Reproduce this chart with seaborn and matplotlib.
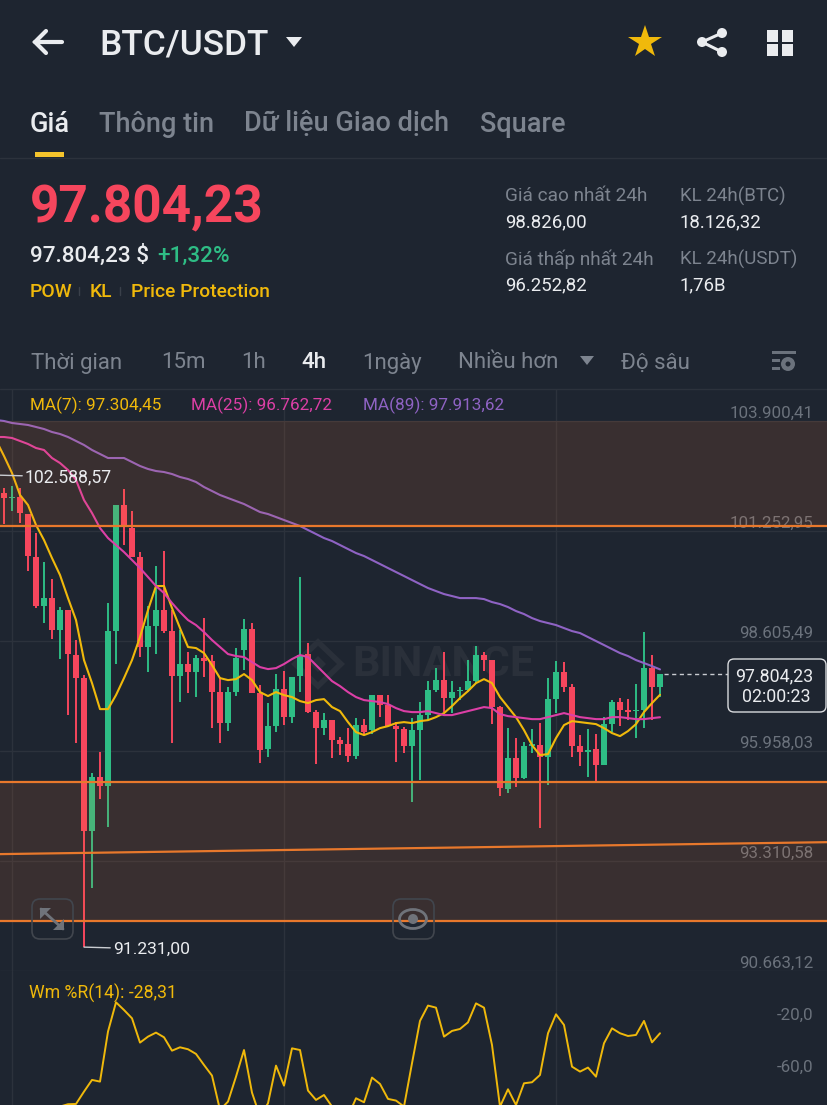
import matplotlib
matplotlib.use("Agg")
import matplotlib.pyplot as plt
from matplotlib.patches import FancyBboxPatch, Polygon, Circle, Rectangle, Ellipse
import seaborn as sns
import pandas as pd

# candles
opens = [102160,102039,102063,101654,100619,99440,99631,98861,99343,98260,97705,94022,95323,95106,98837,101871,101317,100619,98453,98958,
         99343,98837,97754,98043,97850,98187,98115,97369,96622,97369,98380,98885,97345,95996,96550,97440,96767,97754,98284,96887,
         96501,96694,96213,96117,95828,96574,96454,97296,97056,96550,96478,96068,96454,96815,97417,97657,97224,97393,97417,97633,
         98260,98139,97008,95033,95779,95298,96068,96092,95804,97200,97850,97489,96068,95924,95996,95611,96598,97128,96935,96911,
         96935,97946,97489]
closes = [102039,102063,101678,100643,99440,99631,98861,99343,98284,97705,94022,95323,95106,98837,101871,101342,100619,98453,98958,99343,
          98837,97754,98043,97850,98187,98115,97369,96622,97369,98187,98885,97345,95972,96550,97440,96767,97730,98260,96887,96501,
          96694,96213,96117,95828,96574,96406,97296,97056,96550,96478,96068,96454,96815,97417,97657,97224,97369,97417,97633,98260,
          98139,97008,95058,95779,95298,96068,96117,95804,97200,97850,97489,96068,95924,95972,95611,96598,97128,96935,96887,96935,
          97946,97489,97804]
highs = [102280,102329,102280,101654,101197,100499,100089,99416,99343,98621,97778,95419,95924,99512,101871,102256,101726,100739,99440,100403,
         100763,99343,98861,98332,98260,99150,98260,97730,97489,98428,99126,99030,97537,97104,97802,97874,97730,100138,98549,96935,
         96863,96694,96285,96501,96742,96718,97296,97296,97296,96646,96526,96742,97128,97633,97946,98332,97633,97489,98139,98477,
         98332,98139,97032,96501,96261,96165,96478,96622,97705,98115,98091,97561,96334,96478,96358,96766,97176,97224,97200,97561,
         98813,98260,97804]
lows = [101414,101726,101438,100282,99391,99030,98644,98163,96815,96141,91231,92649,94792,94119,98043,100908,100619,98212,97850,98284,
        98789,96141,97128,97345,97249,97730,96501,96141,96430,97273,97898,97345,95659,95804,96406,96574,96622,97369,96863,95635,
        96334,95779,95852,95683,95755,96358,96358,96766,96550,95683,95900,94720,95250,96694,97369,96887,96863,97176,97369,97585,
        97874,96598,94865,94937,95081,95274,95900,94094,95130,96863,97369,95804,95587,95323,95202,95611,96406,96550,96694,96261,
        96501,96694,97249]

# moving averages, first point sits one candle left of the visible chart
ma7 = [103436,103051,102641,102112,101871,101390,101028,100594,100186,99631,99102,98139,97585,96959,96959,97296,97705,98139,98693,99343,
       99921,99921,99391,98909,98453,98428,98308,98018,97705,97657,97681,97802,97657,97369,97273,97369,97296,97249,97152,97104,
       97176,97200,97008,96911,96646,96406,96334,96406,96501,96550,96622,96646,96622,96670,96694,96766,96863,97032,97224,97393,
       97585,97681,97585,97249,97008,96766,96454,96092,95852,95876,96261,96574,96670,96646,96622,96598,96501,96382,96309,
       96430,96598,96887,97104,97304]
ma25 = [103508,103508,103484,103412,103340,103243,103195,103002,102882,102713,102473,101991,101678,101317,101076,100908,100739,100547,100353,100138,
        99921,99752,99512,99295,99102,98982,98813,98621,98453,98284,98236,98212,98091,97970,97922,97946,98043,98163,98260,98212,
        98018,97826,97633,97513,97369,97249,97176,97152,97128,97080,96983,96911,96887,96887,96911,96863,96815,96815,96863,96911,
        96959,97008,96983,96839,96790,96766,96742,96718,96718,96766,96815,96863,96815,96766,96742,96718,96718,96766,96766,96742,
        96718,96718,96742,96763]
ma89 = [103917,103893,103845,103821,103797,103749,103700,103628,103580,103508,103412,103316,103195,103099,103002,103002,103002,102906,102810,102738,
        102689,102665,102617,102545,102497,102425,102304,102208,102112,102039,101967,101895,101799,101702,101654,101582,101510,101438,101366,101269,
        101173,101076,101004,100908,100811,100715,100643,100547,100451,100354,100258,100162,100065,99969,99873,99800,99728,99680,99631,99631,
        99631,99607,99535,99487,99415,99319,99247,99150,99078,99030,98982,98909,98837,98789,98693,98597,98501,98404,98308,98236,
        98139,98067,97994,97914]

# Wm %R(14), starts at candle 7
wr_start = 7
wr = [-84.7,-82.9,-82.7,-73.2,-64.2,-65.5,-27.0,-4.5,-10.4,-16.8,-35.5,-30.9,-27.8,-31.4,-41.7,-39.1,-40.6,-44.2,-52.7,-60.9,
      -87.3,-80.9,-61.7,-41.2,-74.0,-92.4,-82.2,-53.2,-68.6,-39.9,-41.2,-72.4,-79.6,-75.8,-84.7,-92.4,-92.4,-78.3,-81.4,-62.4,
      -67.3,-78.8,-80.1,-84.7,-51.4,-18.8,-7.0,-8.6,-30.9,-26.5,-25.0,-19.9,-5.3,-8.6,-37.3,-84.7,-71.4,-83.5,-66.8,-66.0,
      -60.4,-28.3,-13.7,-21.9,-54.0,-57.8,-54.7,-61.7,-36.0,-24.5,-28.3,-30.4,-29.6,-18.8,-35.3,-28.31]

price_ticks = [103900.41, 101252.95, 98605.49, 95958.03, 93310.58, 90663.12]
price_labels = ["103.900,41", "101.252,95", "98.605,49", "95.958,03", "93.310,58", "90.663,12"]
wr_ticks = [-20, -60]
wr_labels = ["-20,0", "-60,0"]
zones = [(101366, 103893), (91855, 95202)]
trend_line = [(-0.5, 93469), (103, 93757)]
last_price = 97804.23
chart_high = 102588.57
chart_low = 91231.00

BG = "#1e2530"
GRID = "#2c323c"
RED = "#f6465d"
GREEN = "#2ebd85"
YELLOW = "#f0b90b"
PINK = "#dc3fa6"
PURPLE = "#8f63c4"
GREY = "#7d848f"
AXIS_GREY = "#6b727c"
WHITE = "#eaecef"
ORANGE = "#e8782c"
ICON = "#6f737a"

sns.set_theme(style="dark", rc={"figure.facecolor": BG, "axes.facecolor": "none", "savefig.facecolor": BG,
                                "patch.force_edgecolor": False, "patch.edgecolor": "none"})
plt.rcParams["font.family"] = ["Roboto", "DejaVu Sans"]

W, H = 828, 1105
fig = plt.figure(figsize=(W / 100, H / 100), dpi=100)
ax = fig.add_axes([0, 1 - 971 / H, 1, (971 - 389) / H])
ax_wr = fig.add_axes([0, 0, 1, (H - 971) / H])
ui = fig.add_axes([0, 0, 1, 1], zorder=5)
ui.set_xlim(0, W)
ui.set_ylim(H, 0)
ui.axis("off")

ax.set_xlim(-0.5, 103)
ax.set_ylim(90656, 104663)
ax_wr.set_xlim(-0.5, 103)
ax_wr.set_ylim(-83.5, 19.6)

for a in (ax, ax_wr):
    sns.despine(ax=a, left=True, bottom=True)
    a.set_xticks([1, 35, 69])
    a.tick_params(axis="x", length=0, labelbottom=False)
    a.tick_params(axis="y", length=0, pad=-10.6, labelright=True, labelleft=False, labelcolor=AXIS_GREY, labelsize=12.2)
    a.xaxis.grid(True, color=GRID, lw=1)
    a.set_axisbelow(True)

ax.set_yticks(price_ticks)
ax.set_yticklabels(price_labels)
ax.yaxis.grid(True, color=GRID, lw=1)
ax_wr.set_yticks(wr_ticks)
ax_wr.set_yticklabels(wr_labels)
ax_wr.yaxis.grid(False)
for lbl in ax.get_yticklabels() + ax_wr.get_yticklabels():
    lbl.set_ha("right")
    lbl.set_va("bottom")

# watermark
ax.text(352, 664, "BINANCE", transform=ui.transData, color="#2a303a", fontsize=31, fontweight="bold", va="center", zorder=1)
ax.add_patch(Polygon([(318, 642), (341, 664), (318, 686), (295, 664)], closed=True, transform=ui.transData,
                     facecolor="none", edgecolor="#2a303a", lw=4, zorder=1, clip_on=False))
ax.add_patch(Polygon([(318, 656), (326, 664), (318, 672), (310, 664)], closed=True, transform=ui.transData,
                     facecolor="#2a303a", zorder=1, clip_on=False))

# candles
idx = list(range(len(opens)))
colors = [GREEN if c >= o else RED for o, c in zip(opens, closes)]
ax.vlines(idx, lows, highs, colors=colors, lw=1.4, zorder=2)
body_low = [min(o, c) for o, c in zip(opens, closes)]
body_h = [abs(o - c) for o, c in zip(opens, closes)]
ax.bar(idx, body_h, bottom=body_low, width=0.76, color=colors, linewidth=0, zorder=3)

# moving averages
ma_df = pd.concat([
    pd.DataFrame({"i": range(-1, len(v) - 1), "price": v, "ma": name})
    for name, v in [("MA7", ma7), ("MA25", ma25), ("MA89", ma89)]
])
sns.lineplot(data=ma_df, x="i", y="price", hue="ma", palette={"MA7": YELLOW, "MA25": PINK, "MA89": PURPLE},
             lw=1.5, legend=False, errorbar=None, ax=ax, zorder=4)
ax.set_xlabel("")
ax.set_ylabel("")

# zones and drawn levels
for lo, hi in zones:
    ax.axhspan(lo, hi, color="#ff7a30", alpha=0.12, lw=0, zorder=5)
    for level in (lo, hi):
        if level != 103893:
            ax.axhline(level, color=ORANGE, lw=1.6, zorder=6)
ax.plot([p[0] for p in trend_line], [p[1] for p in trend_line], color=ORANGE, lw=1.6, zorder=6)

# high / low tags
ax.annotate("102.588,57", xy=(-0.5, chart_high), xytext=(25, 477), textcoords=ui.transData, color=WHITE, fontsize=12.7,
            va="center", zorder=7, arrowprops=dict(arrowstyle="-", color="#c9ccd1", lw=1, shrinkA=0, shrinkB=0))
ax.annotate("91.231,00", xy=(10, chart_low), xytext=(113, 949), textcoords=ui.transData, color=WHITE, fontsize=12.6,
            va="center", zorder=7, arrowprops=dict(arrowstyle="-", color="#c9ccd1", lw=1, shrinkA=0, shrinkB=0))

# last price tag
ax.plot([82.5, 90.9], [last_price, last_price], color="#c9ccd1", lw=1, ls=(0, (3, 2.5)), zorder=7)
ui.add_patch(FancyBboxPatch((728, 659), 98, 53, boxstyle="round,pad=0,rounding_size=6", facecolor=BG, edgecolor="#d8dadd", lw=1))
ui.text(774, 676, "97.804,23", color=WHITE, fontsize=12.8, ha="center", va="center")
ui.text(776, 697, "02:00:23", color=WHITE, fontsize=12.8, ha="center", va="center")

# lower panel
wr_df = pd.DataFrame({"i": range(wr_start, wr_start + len(wr)), "wr": wr})
sns.lineplot(data=wr_df, x="i", y="wr", color=YELLOW, lw=1.4, errorbar=None, ax=ax_wr)
ax_wr.set_xlabel("")
ax_wr.set_ylabel("")
ui.text(29, 993, "Wm %R(14): -28,31", color=YELLOW, fontsize=12.7, va="center")

# header
def label(x, y, s, color=WHITE, size=13, weight="normal"):
    ui.text(x, y, s, color=color, fontsize=size, fontweight=weight, va="center", ha="left")

ui.plot([35, 62], [42, 42], color=WHITE, lw=3, solid_capstyle="round")
ui.plot([46, 35, 46], [31, 42, 53], color=WHITE, lw=3, solid_capstyle="round", solid_joinstyle="miter")
label(99, 45, "BTC/USDT", size=25.4, weight="medium")
ui.add_patch(Polygon([(286, 37), (302, 37), (294, 47)], closed=True, facecolor=WHITE))
ui.plot([645], [42], marker="*", ms=25, color=YELLOW, mew=0)
for cx, cy in [(722, 33), (702, 42), (722, 52)]:
    ui.add_patch(Circle((cx, cy), 5, facecolor=WHITE))
ui.plot([722, 702, 722], [33, 42, 52], color=WHITE, lw=2.2)
for x0, y0 in [(767, 30), (782, 30), (767, 44), (782, 44)]:
    ui.add_patch(Rectangle((x0, y0), 11.5, 11.5, facecolor=WHITE))

label(30, 124, "Giá", size=19.5, weight="medium")
label(99, 124, "Thông tin", GREY, 19.5, "medium")
label(244, 124, "Dữ liệu Giao dịch", GREY, 19.5, "medium")
label(480, 124, "Square", GREY, 19.5, "medium")
ui.add_patch(Rectangle((35, 152), 29, 5, facecolor="#f5c42c"))
ui.plot([0, W], [157.5, 157.5], color=GRID, lw=1)

label(30, 208, "97.804,23", RED, 37, "bold")
label(30, 256, "97.804,23 $", WHITE, 16.2, "medium")
label(157, 256, "+1,32%", GREEN, 16.2, "medium")
label(30, 292, "POW", YELLOW, 13.9, "medium")
label(90, 292, "KL", YELLOW, 13.9, "medium")
label(131, 292, "Price Protection", YELLOW, 13.9, "medium")
for x in (79, 120):
    ui.plot([x, x], [287, 295], color="#3a404a", lw=1)

label(505, 196, "Giá cao nhất 24h", GREY, 13.7)
label(680, 196, "KL 24h(BTC)", GREY, 13.5)
label(505, 222, "98.826,00", WHITE, 13.4)
label(680, 222, "18.126,32", WHITE, 13.4)
label(505, 259, "Giá thấp nhất 24h", GREY, 13.7)
label(680, 259, "KL 24h(USDT)", GREY, 13.5)
label(505, 285, "96.252,82", WHITE, 13.4)
label(680, 285, "1,76B", WHITE, 13.4)

for x, s in [(31, "Thời gian"), (161, "15m"), (241, "1h"), (362, "1ngày"), (458, "Nhiều hơn"), (621, "Độ sâu")]:
    label(x, 363, s, GREY, 16)
label(301, 363, "4h", WHITE, 16, "medium")
ui.add_patch(Polygon([(580, 356), (594, 356), (587, 365)], closed=True, facecolor=GREY))
for y0, w0 in [(351, 24), (359, 8), (367, 8)]:
    ui.add_patch(Rectangle((772, y0), w0, 3, facecolor=AXIS_GREY))
ui.add_patch(Circle((788, 364), 7, facecolor=AXIS_GREY))
ui.add_patch(Circle((788, 364), 2.5, facecolor=BG))
ui.plot([0, W], [388.5, 388.5], color=GRID, lw=1)

label(30, 405, "MA(7): 97.304,45", YELLOW, 12.3)
label(191, 405, "MA(25): 96.762,72", PINK, 12.3)
label(363, 405, "MA(89): 97.913,62", PURPLE, 12.3)

# chart buttons
ui.add_patch(FancyBboxPatch((32, 899), 41, 40, boxstyle="round,pad=0,rounding_size=8", facecolor="none", edgecolor="#41464e", lw=1.2))
ui.add_patch(Polygon([(40, 908), (51, 908), (40, 919)], closed=True, facecolor=ICON))
ui.add_patch(Polygon([(64, 930), (53, 930), (64, 919)], closed=True, facecolor=ICON))
ui.plot([41, 63], [909, 929], color=ICON, lw=2)
ui.add_patch(FancyBboxPatch((393, 899), 41, 40, boxstyle="round,pad=0,rounding_size=8", facecolor="none", edgecolor="#41464e", lw=1.2))
ui.add_patch(Ellipse((413, 919), 27, 19, facecolor="none", edgecolor=ICON, lw=2))
ui.add_patch(Circle((413, 919), 5, facecolor=ICON))

fig.savefig("out.png", dpi=100)
